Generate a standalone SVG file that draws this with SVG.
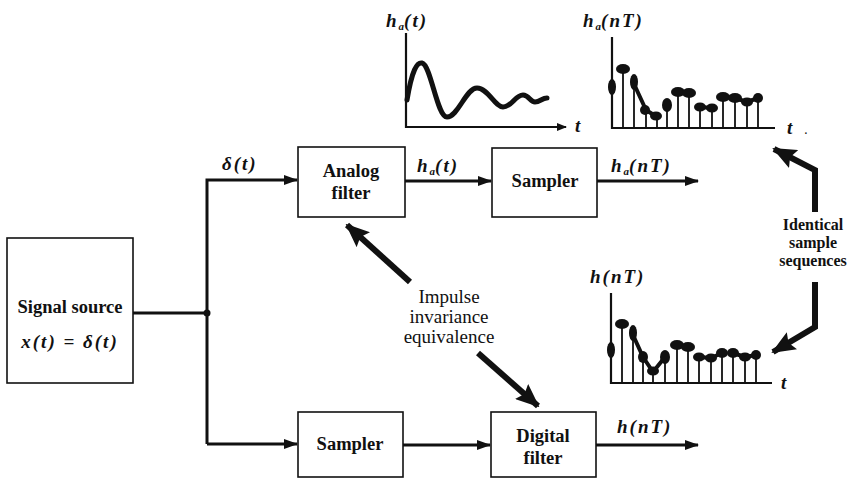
<svg xmlns="http://www.w3.org/2000/svg" width="853" height="478" viewBox="0 0 853 478">
<style>
.box{fill:#fff;stroke:#111;stroke-width:1.6}
.t{font-family:"Liberation Serif","Times New Roman",serif;font-weight:bold;font-size:18.5px;fill:#111;text-anchor:middle}
.s{font-family:"Liberation Serif","Times New Roman",serif;font-weight:bold;font-size:16px;fill:#111;text-anchor:middle}
.n{font-family:"Liberation Serif","Times New Roman",serif;font-size:19px;fill:#111;text-anchor:middle}
.m{font-family:"Liberation Serif","Times New Roman",serif;font-weight:bold;font-style:italic;font-size:19px;fill:#111;letter-spacing:2px}
.sub{font-size:11px;letter-spacing:0}
.w{fill:none;stroke:#111;stroke-width:3}
.big{fill:none;stroke:#111;stroke-width:6;stroke-linejoin:miter}
.ax{fill:none;stroke:#111;stroke-width:2.2}
.stem{fill:none;stroke:#111;stroke-width:1.8}
.blob{fill:#111}
</style>
<defs>
<marker id="ah" markerUnits="userSpaceOnUse" markerWidth="14" markerHeight="10" refX="13" refY="5" orient="auto">
<path d="M0,0 L14,5 L0,10 Z" fill="#111"/>
</marker>
<marker id="bh" markerUnits="userSpaceOnUse" markerWidth="24" markerHeight="20" refX="22" refY="10" orient="auto">
<path d="M0,0 L24,10 L0,20 L4,10 Z" fill="#111"/>
</marker>
<marker id="sh" markerUnits="userSpaceOnUse" markerWidth="10" markerHeight="8" refX="9" refY="4" orient="auto">
<path d="M0,0 L10,4 L0,8 Z" fill="#111"/>
</marker>
</defs>

<g id="connectors">
<path class="w" d="M133,313 H207"/>
<circle cx="207" cy="313" r="3.5" fill="#111"/>
<path class="w" d="M207,444 V180 H297" marker-end="url(#ah)"/>
<path class="w" d="M207,444 H297" marker-end="url(#ah)"/>
<path class="w" d="M405,181 H491" marker-end="url(#ah)"/>
<path class="w" d="M597,181 H698" marker-end="url(#ah)"/>
<path class="w" d="M403,445 H490" marker-end="url(#ah)"/>
<path class="w" d="M596,445 H698" marker-end="url(#ah)"/>
<path class="big" d="M410,282 L347,225" marker-end="url(#bh)"/>
<path class="big" d="M478,353 L538,406" marker-end="url(#bh)"/>
<path class="big" d="M815,212 V170 L774,149" marker-end="url(#bh)"/>
<path class="big" d="M815,282 V327 L773,352" marker-end="url(#bh)"/>
</g>

<g id="signal-source">
<rect class="box" x="7" y="238" width="126" height="145"/>
<text class="t" x="70" y="313">Signal source</text>
<text class="m" x="70" y="348" text-anchor="middle">x(t) = δ(t)</text>
</g>

<text class="m" x="222" y="170">δ(t)</text>

<g id="analog-filter">
<rect class="box" x="298" y="147" width="107" height="70"/>
<text class="t" x="351" y="177">Analog</text>
<text class="t" x="351" y="199">filter</text>
</g>

<text class="m" x="417" y="172">h<tspan class="sub" dy="3">a</tspan><tspan dy="-3">(t)</tspan></text>

<g id="sampler-top">
<rect class="box" x="492" y="148" width="105" height="69"/>
<text class="t" x="545" y="187">Sampler</text>
</g>

<text class="m" x="611" y="172">h<tspan class="sub" dy="3">a</tspan><tspan dy="-3">(nT)</tspan></text>

<g id="sampler-bottom">
<rect class="box" x="298" y="412" width="105" height="65"/>
<text class="t" x="350" y="450">Sampler</text>
</g>

<g id="digital-filter">
<rect class="box" x="491" y="412" width="105" height="65"/>
<text class="t" x="543" y="442">Digital</text>
<text class="t" x="543" y="464">filter</text>
</g>

<text class="m" x="617" y="433">h(nT)</text>

<g id="impulse-label">
<text class="n" x="449" y="303">Impulse</text>
<text class="n" x="449" y="323">invariance</text>
<text class="n" x="449" y="343">equivalence</text>
</g>

<g id="identical-label">
<text class="s" x="813" y="230">Identical</text>
<text class="s" x="813" y="248">sample</text>
<text class="s" x="813" y="266">sequences</text>
</g>

<g id="plot-ha-t">
<text class="m" x="386" y="27">h<tspan class="sub" dy="3">a</tspan><tspan dy="-3">(t)</tspan></text>
<path class="ax" d="M406,33 V127 H566" marker-end="url(#sh)"/>
<text class="m" x="575" y="132">t</text>
<path d="M407,100 C412,70 417,62 422,63 C431,65 437,117 447,117 C458,117 466,88 477,88 C488,88 495,107 503,107 C512,107 515,95 523,95 C529,95 530,102 535,102 C540,102 542,98 547,98" fill="none" stroke="#111" stroke-width="5" stroke-linecap="round"/>
</g>

<g id="plot-ha-nT">
<text class="m" x="583" y="27">h<tspan class="sub" dy="3">a</tspan><tspan dy="-3">(nT)</tspan></text>
<path class="ax" d="M612,37 V128 H775"/>
<text class="m" x="787" y="134">t</text>
<text class="m" x="805" y="134" style="font-size:10px">.</text>
<path class="stem" d="M612,128V87 M623,128V68 M634,128V82 M646,128V110 M657,128V117 M667,128V105 M678,128V92 M689,128V92 M700,128V107 M712,128V108 M723,128V97 M735,128V98 M747,128V102 M758,128V98"/>
<path d="M634,84 L646,110 L657,117 M700,107 L712,108 M723,97 L735,98 L747,102 L758,98" fill="none" stroke="#111" stroke-width="4" stroke-linejoin="round"/>
<g class="blob">
<ellipse cx="612" cy="87" rx="4" ry="8"/><ellipse cx="623" cy="69" rx="7" ry="5"/><ellipse cx="634" cy="82" rx="4" ry="8"/><ellipse cx="645" cy="110" rx="5" ry="5"/><ellipse cx="656" cy="116" rx="6" ry="4.5"/><ellipse cx="667" cy="105" rx="5" ry="7"/><ellipse cx="678" cy="92" rx="7" ry="5"/><ellipse cx="689" cy="93" rx="7" ry="5"/><ellipse cx="700" cy="107" rx="6" ry="4.5"/><ellipse cx="712" cy="108" rx="6" ry="4.5"/><ellipse cx="723" cy="97" rx="7" ry="5"/><ellipse cx="735" cy="98" rx="7" ry="5"/><ellipse cx="747" cy="102" rx="6" ry="4.5"/><ellipse cx="758" cy="98" rx="5" ry="5"/>
</g>
</g>

<g id="plot-h-nT">
<text class="m" x="590" y="283">h(nT)</text>
<path class="ax" d="M611,293 V383 H772"/>
<text class="m" x="781" y="389">t</text>
<path class="stem" d="M611,383V350 M622,383V323 M633,383V333 M643,383V357 M653,383V372 M665,383V357 M677,383V345 M688,383V347 M699,383V357 M711,383V358 M722,383V353 M733,383V353 M745,383V357 M756,383V355"/>
<path d="M633,335 L643,357 L653,372 L665,357 M699,357 L711,358 L722,353 M733,353 L745,357 L756,355" fill="none" stroke="#111" stroke-width="4" stroke-linejoin="round"/>
<g class="blob">
<ellipse cx="611" cy="350" rx="4" ry="8"/><ellipse cx="622" cy="324" rx="7" ry="5"/><ellipse cx="633" cy="333" rx="4" ry="8"/><ellipse cx="643" cy="357" rx="5" ry="6"/><ellipse cx="653" cy="371" rx="6" ry="4.5"/><ellipse cx="665" cy="357" rx="5" ry="7"/><ellipse cx="677" cy="345" rx="7" ry="5"/><ellipse cx="688" cy="347" rx="7" ry="5"/><ellipse cx="699" cy="357" rx="6" ry="4.5"/><ellipse cx="711" cy="358" rx="6" ry="4.5"/><ellipse cx="722" cy="353" rx="6" ry="5"/><ellipse cx="733" cy="353" rx="6" ry="5"/><ellipse cx="745" cy="357" rx="6" ry="4.5"/><ellipse cx="756" cy="355" rx="5" ry="5"/>
</g>
</g>
</svg>
